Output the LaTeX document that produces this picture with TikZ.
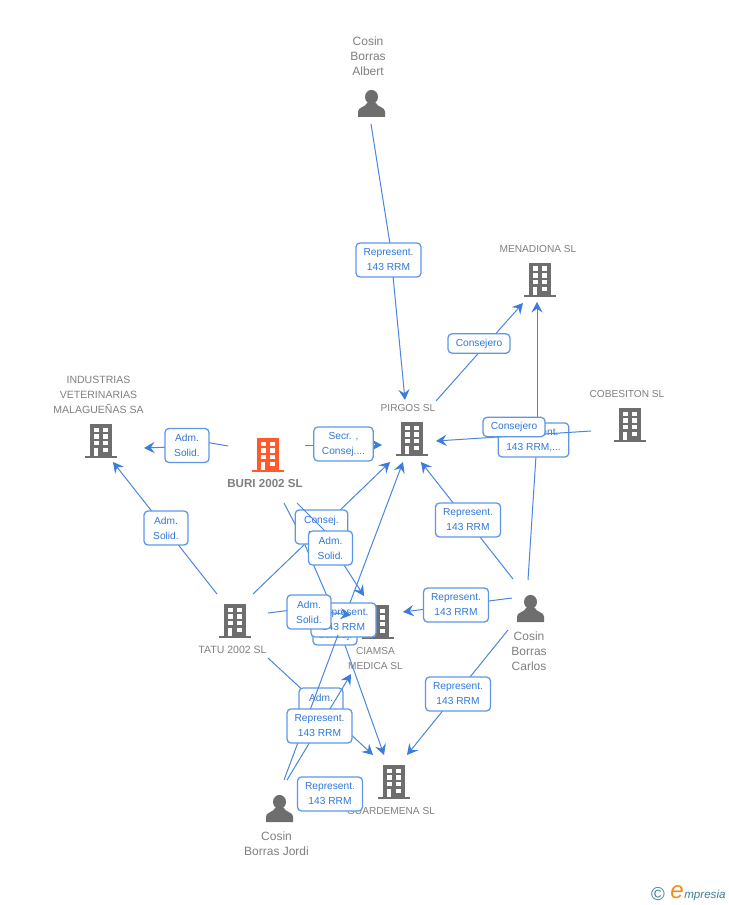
\documentclass[tikz,border=0pt]{standalone}
\usepackage{fontspec}
\setmainfont{Liberation Sans}
\usetikzlibrary{arrows.meta}
\definecolor{linec}{HTML}{4A86E0}
\definecolor{tipc}{HTML}{3B7DDD}
\definecolor{boxc}{HTML}{5F97E6}
\definecolor{txtb}{HTML}{2F77DC}
\definecolor{txtg}{HTML}{808080}
\definecolor{icong}{HTML}{6E6E6E}
\definecolor{iconr}{HTML}{FF5A2B}
\definecolor{logob}{HTML}{3F7F99}
\definecolor{logoo}{HTML}{F28A1E}
\tikzset{
  link/.style={draw=linec,line width=0.75pt},
  arr/.style={link,-{Stealth[length=8pt,width=8.5pt,inset=3pt,color=tipc]}},
  lab/.style={draw=boxc,line width=0.95pt,rounded corners=3pt,fill=white,
    text=txtb,align=center,inner sep=0pt,minimum height=25.5pt,
    font=\fontsize{7.65}{11.25}\selectfont},
  wR/.style={lab,minimum width=48.75pt},
  wA/.style={lab,minimum width=33pt},
  cname/.style={text=txtg,align=center,inner sep=0pt,
    font=\fontsize{7.6}{11.25}\selectfont},
  cwide/.style={cname,font=\fontsize{7.9}{11.25}\selectfont},
  pname/.style={text=txtg,align=center,inner sep=0pt,
    font=\fontsize{9}{11.25}\selectfont},
  iconbox/.style={inner sep=0pt,minimum width=24pt,minimum height=25.5pt}
}
\newcommand{\bldg}[4]{%
  \node[iconbox] (#1) at (#2,#3) {};
  \begin{scope}[shift={(#1.center)}]
    \fill[#4] (-11,-17) rectangle (11,15.5);
    \fill[#4] (-16,15) rectangle (16,17);
    \foreach \r in {0,1,2,3} {
      \fill[white] (2,-13.5+6.67*\r) rectangle (7,-9+6.67*\r);
    }
    \foreach \r in {0,1,2} {
      \fill[white] (-7,-13.5+6.67*\r) rectangle (-2,-9+6.67*\r);
    }
    \fill[white] (-7,6.5) rectangle (-3,15);
  \end{scope}}
\newcommand{\prsn}[3]{%
  \node[iconbox,minimum width=20pt,minimum height=20pt] (#1) at (#2,#3) {};
  \begin{scope}[shift={(#1.center)}]
    \fill[icong] (0,-6.6) ellipse (6.5 and 7);
    \fill[icong] (-13.5,13.5) -- (-13.5,8) .. controls (-13.5,3.5) and (-6,4) .. (-4,-1)
      -- (4,-1) .. controls (6,4) and (13.5,3.5) .. (13.5,8) -- (13.5,13.5) -- cycle;
  \end{scope}}
\begin{document}
\begin{tikzpicture}[x=0.75pt,y=-0.75pt]
\path[use as bounding box,fill=white] (0,0) rectangle (728,905);

% companies
\bldg{menadiona}{540}{280}{icong}
\bldg{cobesiton}{630}{425}{icong}
\bldg{pirgos}{412}{439}{icong}
\bldg{industrias}{101}{441}{icong}
\bldg{buri}{268}{455}{iconr}
\bldg{tatu}{235}{621}{icong}
\bldg{ciamsa}{378}{622}{icong}
\bldg{guardemena}{394}{782}{icong}
% people
\prsn{albert}{371.5}{103.5}
\prsn{carlos}{530.5}{608.5}
\prsn{jordi}{279.5}{808.5}

% names
\node[pname] (nalbert) at (368,56) {Cosin\\Borras\\Albert};
\node[pname] (ncarlos) at (529,651) {Cosin\\Borras\\Carlos};
\node[pname] (njordi) at (276.5,844) {Cosin\\Borras Jordi};
\node[cname] (nmena) at (538,249) {MENADIONA SL};
\node[cname] (ncobe) at (627,394) {COBESITON SL};
\node[cname] (npirg) at (408,408) {PIRGOS SL};
\node[cwide] (nindu) at (98.5,395) {INDUSTRIAS\\VETERINARIAS\\MALAGUEÑAS SA};
\node[cname,font=\fontsize{8.7}{11.25}\selectfont\bfseries] (nburi) at (265,483.5) {BURI 2002 SL};
\node[cwide] (ntatu) at (232.5,650) {TATU 2002 SL};
\node[cname] (ncia) at (375.5,658.5) {CIAMSA\\MEDICA SL};
\node[cname] (nguar) at (391,811) {GUARDEMENA SL};

% free ends of the connectors
\coordinate (s1) at (371,124);  \coordinate (p1a) at (390,244); \coordinate (p1b) at (393,276); \coordinate (t1) at (405,400);
\coordinate (s2) at (436,401);  \coordinate (t2) at (523,303);
\coordinate (s3) at (228,446);  \coordinate (p3a) at (205,442); \coordinate (p3b) at (170,447); \coordinate (t3) at (144,448);
\coordinate (s4) at (305,445);  \coordinate (t4) at (382,445);
\coordinate (s5) at (217,594);  \coordinate (t5) at (113,462);
\coordinate (s6) at (253,594);  \coordinate (t6) at (390,462);
\coordinate (s7) at (297,503);  \coordinate (p7a) at (325,531); \coordinate (p7b) at (344,565); \coordinate (t7) at (364,596);
\coordinate (s8) at (284,503);  \coordinate (p8a) at (296,526); \coordinate (p8b) at (305,545); \coordinate (p8c) at (330,603); \coordinate (t8) at (384,755);
\coordinate (s9) at (268,613);  \coordinate (p9) at (300,609);  \coordinate (t9) at (351,615);
\coordinate (s10) at (284,780); \coordinate (p10) at (343.5,620); \coordinate (t10) at (403,462);
\coordinate (s11) at (287,780); \coordinate (t11) at (351,674);
\coordinate (s12) at (268,658); \coordinate (t12) at (373,755);
\coordinate (s14) at (508,630); \coordinate (t14) at (407,755);
\coordinate (s15) at (512,598); \coordinate (t15) at (403,612);
\coordinate (s16) at (513,579); \coordinate (t16) at (421,462);
\coordinate (s17) at (528,580); \coordinate (p17) at (537,440); \coordinate (t17) at (537,302);
\coordinate (s18) at (591,431); \coordinate (t18) at (436,441);

% edges with labels out of the crowd
\draw[link] (s1) -- (p1a);
\draw[arr] (p1b) -- (t1);
\node[wR] (b1) at (388.5,260) {Represent.\\143 RRM};

\draw[arr] (s2) -- (t2);
\node[lab,minimum width=46.5pt,minimum height=14.5pt] (b2) at (479,343.5) {Consejero};

\draw[link] (s3) -- (p3a);
\draw[arr] (p3b) -- (t3);
\node[wA] (b3) at (187,445.5) {Adm.\\Solid.};

\draw[arr] (s4) -- (t4);
\node[lab,minimum width=44.5pt] (b4) at (343.5,444) {Secr. ,\\Consej....};

\draw[arr] (s5) -- (t5);
\node[wA] (b5) at (166,528) {Adm.\\Solid.};

\draw[arr] (s14) -- (t14);
\node[wR] (b14) at (458,694) {Represent.\\143 RRM};

\draw[arr] (s15) -- (t15);
\node[wR] (b15) at (456,605) {Represent.\\143 RRM};

\draw[arr] (s16) -- (t16);
\node[wR] (b16) at (468,520) {Represent.\\143 RRM};

% Carlos to Menadiona, Cobesiton to Pirgos
\draw[link] (s17) -- (p17);
\draw[arr] (p17) -- (t17);
\node[lab,minimum width=53pt] (b17) at (533.5,440) {Represent.\\143 RRM,...};
\draw[arr] (s18) -- (t18);
\node[lab,minimum width=46.5pt,minimum height=14.5pt] (b18) at (514,427) {Consejero};

% central crowd
\draw[link] (s8) -- (p8a);
\draw[link] (p8b) -- (p8c);
\draw[arr] (s6) -- (t6);
\node[lab,minimum width=39.5pt] (b6) at (321.5,527) {Consej.\\Del....};
\draw[link] (s7) -- (p7a);
\draw[arr] (p7b) -- (t7);
\node[wA] (b7) at (330.5,548) {Adm.\\Solid.};

\draw[arr] (p8c) -- (t8);
\node[wA] (b8) at (335,628) {Adm.\\Consej.};
\draw[arr] (p10) -- (t10);
\node[wR] (b10) at (343.5,620) {Represent.\\143 RRM};
\draw[arr] (s9) -- (p9) -- (t9);
\node[wA] (b9) at (309,612) {Adm.\\Solid.};

% lower crowd
\draw[arr] (s12) -- (t12);
\node[wA] (b12) at (321,705) {Adm.\\Solid.};
\draw[link] (s10) -- (338,635);
\draw[arr] (s11) -- (t11);
\node[wR] (b11) at (319.5,726) {Represent.\\143 RRM};
\node[wR] (b13) at (330,794) {Represent.\\143 RRM};

% logo
\node[inner sep=0pt,text=logob,font=\fontsize{14}{14}\selectfont] (copy) at (658,894) {©};
\node[inner sep=0pt,text=logoo,font=\fontsize{18}{18}\selectfont\itshape] (ee) at (677,892) {e};
\node[inner sep=0pt,anchor=west,text=logob,font=\fontsize{8.7}{10}\selectfont\itshape] (empresia) at (684,895) {mpresia};
\end{tikzpicture}
\end{document}
